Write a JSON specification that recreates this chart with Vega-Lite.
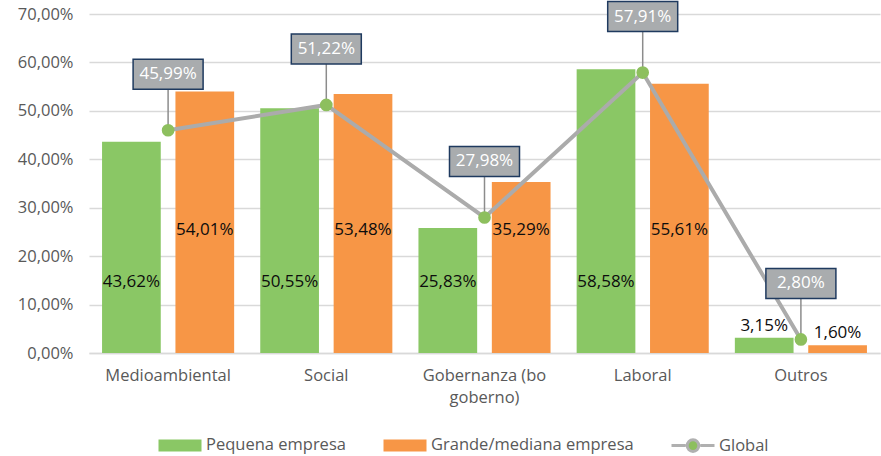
{
  "$schema": "https://vega.github.io/schema/vega-lite/v6.json",
  "width": 791,
  "height": 339,
  "autosize": {"type": "none"},
  "padding": {"left": 89, "top": 14, "right": 1, "bottom": 103},
  "background": "white",
  "config": {
    "locale": {"number": {"decimal": ",", "thousands": ".", "grouping": [3], "currency": ["", " €"]}},
    "font": "Open Sans",
    "view": {"stroke": null},
    "axis": {"labelFont": "Open Sans", "labelFontSize": 16.5, "labelColor": "#595959"}
  },
  "data": {
    "values": [
      {"cat": "Medioambiental", "serie": "Pequena empresa", "value": 0.4362},
      {"cat": "Medioambiental", "serie": "Grande/mediana empresa", "value": 0.5401},
      {"cat": "Medioambiental", "serie": "Global", "value": 0.4599},
      {"cat": "Social", "serie": "Pequena empresa", "value": 0.5055},
      {"cat": "Social", "serie": "Grande/mediana empresa", "value": 0.5348},
      {"cat": "Social", "serie": "Global", "value": 0.5122},
      {"cat": "Gobernanza (bo goberno)", "serie": "Pequena empresa", "value": 0.2583},
      {"cat": "Gobernanza (bo goberno)", "serie": "Grande/mediana empresa", "value": 0.3529},
      {"cat": "Gobernanza (bo goberno)", "serie": "Global", "value": 0.2798},
      {"cat": "Laboral", "serie": "Pequena empresa", "value": 0.5858},
      {"cat": "Laboral", "serie": "Grande/mediana empresa", "value": 0.5561},
      {"cat": "Laboral", "serie": "Global", "value": 0.5791},
      {"cat": "Outros", "serie": "Pequena empresa", "value": 0.0315},
      {"cat": "Outros", "serie": "Grande/mediana empresa", "value": 0.0160},
      {"cat": "Outros", "serie": "Global", "value": 0.0280}
    ]
  },
  "encoding": {
    "x": {
      "field": "cat",
      "type": "nominal",
      "sort": ["Medioambiental", "Social", "Gobernanza (bo goberno)", "Laboral", "Outros"],
      "scale": {"paddingInner": 0.165, "paddingOuter": 0.0825},
      "axis": {
        "title": null,
        "labelAngle": 0,
        "ticks": false,
        "grid": false,
        "domainColor": "#D9D9D9",
        "domainWidth": 1.5,
        "labelPadding": 14,
        "labelLineHeight": 22,
        "labelExpr": "datum.label == 'Gobernanza (bo goberno)' ? ['Gobernanza (bo', 'goberno)'] : datum.label"
      }
    }
  },
  "layer": [
    {
      "transform": [{"filter": "datum.serie !== 'Global'"}],
      "mark": {"type": "bar"},
      "encoding": {
        "y": {
          "field": "value",
          "type": "quantitative",
          "scale": {"domain": [0, 0.7]},
          "axis": {
            "title": null,
            "format": ".2%",
            "values": [0, 0.1, 0.2, 0.3, 0.4, 0.5, 0.6, 0.7],
            "grid": true,
            "gridColor": "#D9D9D9",
            "gridWidth": 1.5,
            "domain": false,
            "ticks": false,
            "labelPadding": 16
          }
        },
        "xOffset": {
          "field": "serie",
          "type": "nominal",
          "sort": ["Pequena empresa", "Grande/mediana empresa"],
          "scale": {"domain": ["Pequena empresa", "Grande/mediana empresa"], "paddingInner": 0.2, "paddingOuter": 0}
        },
        "color": {
          "field": "serie",
          "type": "nominal",
          "scale": {
            "domain": ["Pequena empresa", "Grande/mediana empresa", "Global"],
            "range": ["#8AC765", "#F79646", "#8DBF5E"]
          },
          "legend": {
            "title": null,
            "orient": "none",
            "legendX": 68,
            "legendY": 408,
            "direction": "horizontal",
            "symbolSize": 1849,
            "labelFont": "Open Sans",
            "labelFontSize": 16.5,
            "labelColor": "#595959",
            "labelOffset": 3,
            "columnPadding": 31,
            "labelLimit": 400,
            "encode": {
              "symbols": {
                "update": {
                  "shape": {"signal": "datum.value === 'Global' ? 'M-1,0H-0.34M0.34,0H1M-0.27,0A0.27,0.27 0 1,0 0.27,0A0.27,0.27 0 1,0 -0.27,0Z' : 'M-1,-0.28H1V0.28H-1Z'"},
                  "fill": {"signal": "datum.value === 'Global' ? '#8DBF5E' : (datum.value === 'Pequena empresa' ? '#8AC765' : '#F79646')"},
                  "stroke": {"signal": "datum.value === 'Global' ? '#B0B0B0' : 'transparent'"},
                  "strokeWidth": {"value": 3},
                  "opacity": {"value": 1}
                }
              }
            }
          }
        }
      }
    },
    {
      "transform": [{"filter": "datum.serie === 'Global'"}],
      "mark": {"type": "line", "color": "#ABABAB", "strokeWidth": 4},
      "encoding": {"y": {"field": "value", "type": "quantitative"}}
    },
    {
      "transform": [{"filter": "datum.serie === 'Global'"}],
      "mark": {"type": "rule", "color": "#8C8C8C", "strokeWidth": 1.5, "y2Offset": -41},
      "encoding": {
        "y": {"field": "value", "type": "quantitative"},
        "y2": {"field": "value"}
      }
    },
    {
      "transform": [{"filter": "datum.serie === 'Global'"}],
      "mark": {"type": "point", "filled": true, "color": "#8DBF5E", "size": 160, "opacity": 1},
      "encoding": {"y": {"field": "value", "type": "quantitative"}}
    },
    {
      "transform": [{"filter": "datum.serie === 'Global'"}],
      "mark": {
        "type": "point",
        "shape": "M-1,-0.43H1V0.43H-1Z",
        "size": 4900,
        "filled": true,
        "fill": "#A9ACAE",
        "stroke": "#1F3A5F",
        "strokeWidth": 1.5,
        "opacity": 1,
        "yOffset": -56
      },
      "encoding": {"y": {"field": "value", "type": "quantitative"}}
    },
    {
      "transform": [{"filter": "datum.serie === 'Global'"}],
      "mark": {"type": "text", "color": "white", "font": "Open Sans", "fontSize": 17, "baseline": "middle", "yOffset": -56},
      "encoding": {
        "y": {"field": "value", "type": "quantitative"},
        "text": {"field": "value", "type": "quantitative", "format": ".2%"}
      }
    },
    {
      "transform": [{"filter": "datum.serie === 'Pequena empresa' && datum.cat !== 'Outros'"}],
      "mark": {"type": "text", "color": "#0D0D0D", "font": "Open Sans", "fontSize": 17, "baseline": "middle"},
      "encoding": {
        "y": {"datum": 0.147, "type": "quantitative"},
        "xOffset": {"field": "serie", "type": "nominal", "sort": ["Pequena empresa", "Grande/mediana empresa"], "scale": {"domain": ["Pequena empresa", "Grande/mediana empresa"], "paddingInner": 0.2, "paddingOuter": 0}},
        "text": {"field": "value", "type": "quantitative", "format": ".2%"}
      }
    },
    {
      "transform": [{"filter": "datum.serie === 'Grande/mediana empresa' && datum.cat !== 'Outros'"}],
      "mark": {"type": "text", "color": "#0D0D0D", "font": "Open Sans", "fontSize": 17, "baseline": "middle"},
      "encoding": {
        "y": {"datum": 0.254, "type": "quantitative"},
        "xOffset": {"field": "serie", "type": "nominal", "sort": ["Pequena empresa", "Grande/mediana empresa"], "scale": {"domain": ["Pequena empresa", "Grande/mediana empresa"], "paddingInner": 0.2, "paddingOuter": 0}},
        "text": {"field": "value", "type": "quantitative", "format": ".2%"}
      }
    },
    {
      "transform": [{"filter": "datum.serie !== 'Global' && datum.cat === 'Outros'"}],
      "mark": {"type": "text", "color": "#0D0D0D", "font": "Open Sans", "fontSize": 17, "baseline": "bottom", "dy": -3},
      "encoding": {
        "y": {"field": "value", "type": "quantitative"},
        "xOffset": {"field": "serie", "type": "nominal", "sort": ["Pequena empresa", "Grande/mediana empresa"], "scale": {"domain": ["Pequena empresa", "Grande/mediana empresa"], "paddingInner": 0.2, "paddingOuter": 0}},
        "text": {"field": "value", "type": "quantitative", "format": ".2%"}
      }
    }
  ]
}
